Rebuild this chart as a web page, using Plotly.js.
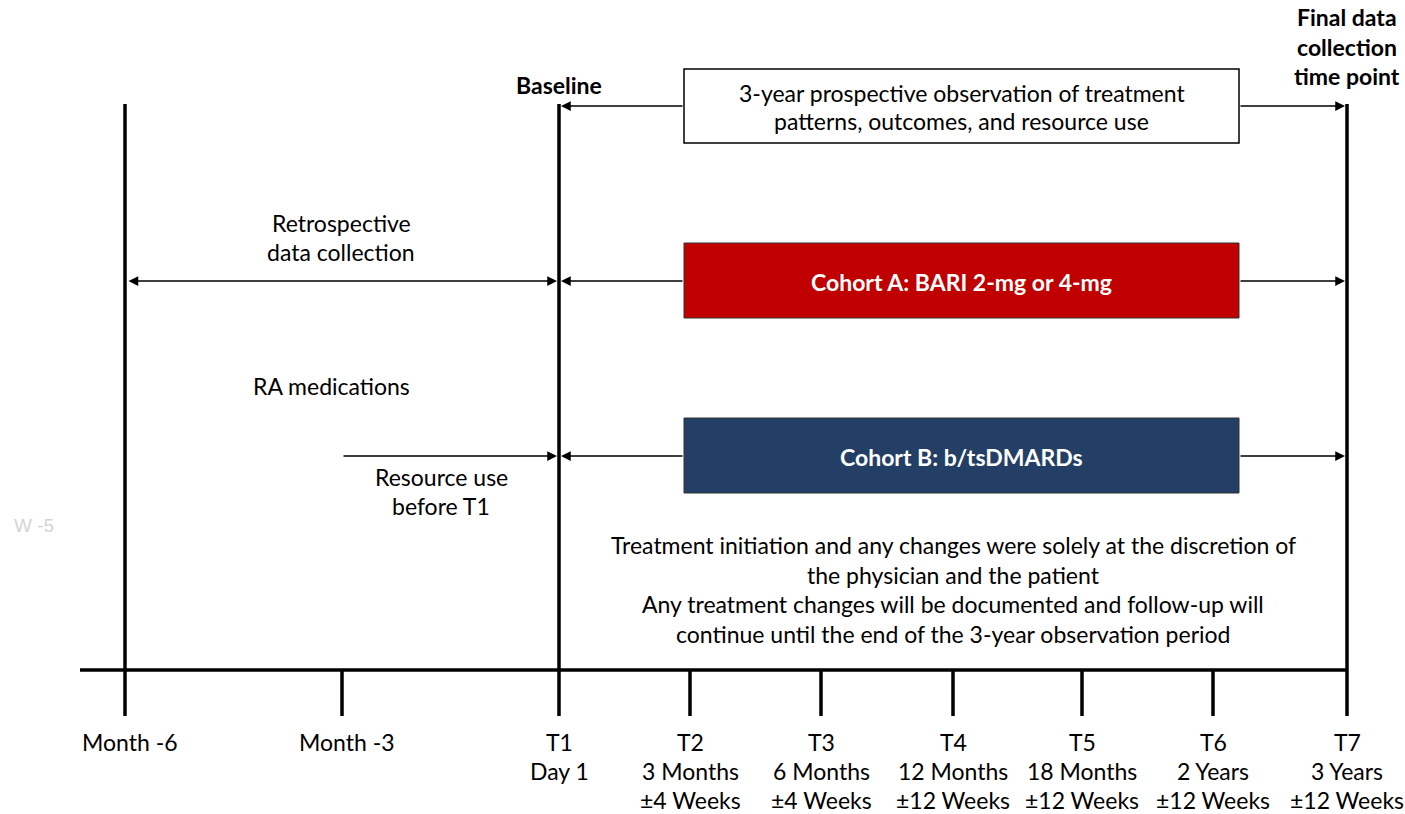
<!DOCTYPE html>
<html>
<head>
<meta charset="utf-8">
<script src="https://cdn.plot.ly/plotly-3.0.1.min.js"></script>
<style>html,body{margin:0;padding:0;background:#fff;}#chart{width:1405px;height:814px;}</style>
</head>
<body>
<div id="chart"></div>
<script>
// ---- Data ----
const timePoints = ["Month -6", "Month -3", "T1", "T2", "T3", "T4", "T5", "T6", "T7"];
const timeLine2 = ["", "", "Day 1", "3 Months", "6 Months", "12 Months", "18 Months", "2 Years", "3 Years"];
const timeLine3 = ["", "", "", "±4 Weeks", "±4 Weeks", "±12 Weeks", "±12 Weeks", "±12 Weeks", "±12 Weeks"];
const cohorts = ["Cohort A: BARI 2-mg or 4-mg", "Cohort B: b/tsDMARDs"];
const cohortColors = ["#C00000", "#243F66"];
const observationText = ["3-year prospective observation of treatment", "patterns, outcomes, and resource use"];
const retroText = ["Retrospective", "data collection"];
const resourceText = ["Resource use", "before T1"];
const finalText = ["Final data", "collection", "time point"];
const noteText = [
  "Treatment initiation and any changes were solely at the discretion of",
  "the physician and the patient",
  "Any treatment changes will be documented and follow-up will",
  "continue until the end of the 3-year observation period"
];

// ---- Layout constants (pixel-like coordinates) ----
const tickX = [125, 342, 559, 690, 821, 953, 1082, 1213, 1347];
const iM6 = 0, iM3 = 1, iT1 = 2, iT7 = 8;
const axisY = 670, tickBottom = 716, topY = 104;
const boxL = 684, boxR = 1239;
const FONT = "Lato, 'Open Sans', sans-serif";
const fs = 23;

const shapes = [];
const annotations = [];

function line(x0, y0, x1, y1, w) {
  shapes.push({type: "line", xref: "x", yref: "y", x0, y0, x1, y1, line: {color: "#000", width: w}});
}
function txt(x, y, text, opts) {
  annotations.push(Object.assign({x, y, xref: "x", yref: "y", text, showarrow: false,
    xanchor: "center", yanchor: "middle", font: {family: FONT, size: fs, color: "#000"}}, opts || {}));
}
function arrow(xTip, xTail, y, both) {
  annotations.push({x: xTip, y, ax: xTail, ay: y, xref: "x", yref: "y", axref: "x", ayref: "y",
    text: "", showarrow: true, arrowhead: 2, arrowsize: 1.3, arrowwidth: 1.5, arrowcolor: "#000",
    arrowside: both ? "end+start" : "end", startarrowhead: 2, startarrowsize: 1.3,
    standoff: 0, startstandoff: 0});
}

// Main timeline
line(80, axisY, tickX[iT7], axisY, 3.5);
tickX.forEach((x, i) => {
  const full = (i === iM6 || i === iT1 || i === iT7);
  line(x, full ? topY : axisY, x, tickBottom, 3.5);
  const dx = (i < iT1) ? 5 : 0;
  txt(x + dx, 742, timePoints[i]);
  if (timeLine2[i]) txt(x, 771, timeLine2[i]);
  if (timeLine3[i]) txt(x, 800, timeLine3[i]);
});

// Header labels
txt(tickX[iT1], 85, "<b>Baseline</b>");
finalText.forEach((t, k) => txt(tickX[iT7], 17 + k * 29.5, "<b>" + t + "</b>"));

// Observation box + arrows
const rowsY = [106, 281, 456];
shapes.push({type: "rect", xref: "x", yref: "y", x0: boxL, x1: boxR, y0: 69, y1: 143,
  fillcolor: "#fff", line: {color: "#000", width: 1.5}});
observationText.forEach((t, k) => txt((boxL + boxR) / 2, 93 + k * 28, t));

// Cohort boxes
cohorts.forEach((c, k) => {
  const yc = rowsY[k + 1];
  shapes.push({type: "rect", xref: "x", yref: "y", x0: boxL, x1: boxR, y0: yc - 38, y1: yc + 37,
    fillcolor: cohortColors[k], line: {color: "#333", width: 1}});
  txt((boxL + boxR) / 2, yc + 1, "<b>" + c + "</b>", {font: {family: FONT, size: fs, color: "#fff"}});
});

// Arrows from boxes to T1 and T7
rowsY.forEach(y => {
  arrow(tickX[iT1] + 2, boxL, y);
  arrow(tickX[iT7] - 2, boxR, y);
});

// Retrospective double arrow
arrow(tickX[iT1] - 2, tickX[iM6] + 2, rowsY[1], true);
retroText.forEach((t, k) => txt(341, 223 + k * 29, t));

// RA medications / resource use
txt(331, 386, "RA medications");
arrow(tickX[iT1] - 2, tickX[iM3], rowsY[2]);
resourceText.forEach((t, k) => txt(441, 477 + k * 29, t));

// Faint watermark text
txt(34, 525, "W -5", {font: {family: "Liberation Sans, Arial, sans-serif", size: 19, color: "#d4d4d4"}});

// Bottom note
noteText.forEach((t, k) => txt(953, 545 + k * 29.5, t));

const layout = {
  width: 1405, height: 814,
  margin: {l: 0, r: 0, t: 0, b: 0},
  paper_bgcolor: "#fff", plot_bgcolor: "#fff",
  showlegend: false,
  xaxis: {range: [0, 1405], visible: false, fixedrange: true},
  yaxis: {range: [814, 0], visible: false, fixedrange: true},
  shapes, annotations
};

Plotly.newPlot("chart", [{x: [], y: [], type: "scatter", mode: "markers", hoverinfo: "skip"}], layout,
  {staticPlot: true, displayModeBar: false});
</script>
</body>
</html>
